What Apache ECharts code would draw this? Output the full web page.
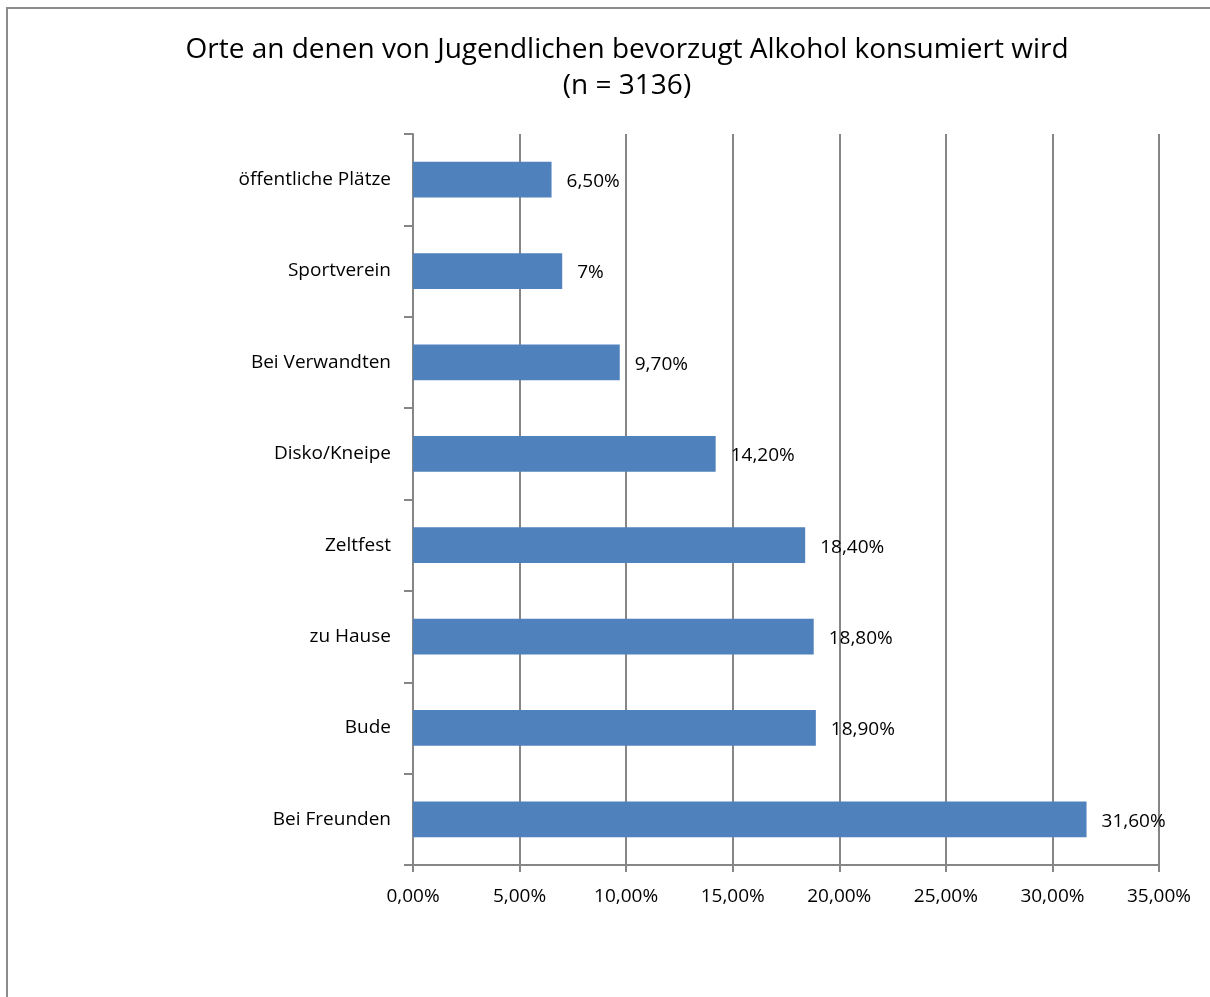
<!DOCTYPE html>
<html><head><meta charset="utf-8">
<script src="https://cdn.jsdelivr.net/npm/echarts@6/dist/echarts.min.js"></script>
<style>html,body{margin:0;padding:0;background:#fff}#c{width:1210px;height:997px}</style>
</head><body><div id="c"></div>
<script>
const categories = ["Bei Freunden","Bude","zu Hause","Zeltfest","Disko/Kneipe","Bei Verwandten","Sportverein","öffentliche Plätze"];
const values = [31.6, 18.9, 18.8, 18.4, 14.2, 9.7, 7, 6.5];
const valueLabels = ["31,60%","18,90%","18,80%","18,40%","14,20%","9,70%","7%","6,50%"];
const titleText = "Orte an denen von Jugendlichen bevorzugt Alkohol konsumiert wird\n(n = 3136)";

const FONT = "Open Sans";
const chart = echarts.init(document.getElementById('c'));
chart.setOption({
  animation: false,
  backgroundColor: '#fff',
  textStyle: {fontFamily: FONT},
  title: {
    text: titleText, left: 622, textAlign: 'center', top: 27,
    textStyle: {fontFamily: FONT, fontSize: 28, fontWeight: 'normal', color: '#000', lineHeight: 36}
  },
  graphic: [{type: 'rect', shape: {x: 7, y: 8, width: 1300, height: 1100}, style: {fill: 'none', stroke: '#8c8c8c', lineWidth: 2}, silent: true}],
  grid: {left: 413, right: 51, top: 134, bottom: 132, containLabel: false},
  xAxis: {
    type: 'value', min: 0, max: 35, interval: 5,
    axisLine: {show: true, lineStyle: {color: '#868686', width: 2}},
    axisTick: {show: true, length: 7, lineStyle: {color: '#868686', width: 2}},
    splitLine: {show: true, lineStyle: {color: '#868686', width: 2}},
    axisLabel: {margin: 22, fontSize: 19, color: '#000', fontFamily: FONT,
      formatter: v => v.toFixed(2).replace('.', ',') + '%'}
  },
  yAxis: {
    type: 'category', data: categories,
    axisLine: {show: true, lineStyle: {color: '#868686', width: 2}},
    axisTick: {show: true, length: 9, lineStyle: {color: '#868686', width: 2}},
    axisLabel: {margin: 22, fontSize: 19, color: '#000', fontFamily: FONT, padding: [4, 0, 0, 0]}
  },
  series: [{
    type: 'bar', data: values, barCategoryGap: '61%',
    itemStyle: {color: '#4f81bd'},
    label: {show: true, position: 'right', distance: 15, offset: [0, 2], fontSize: 19, color: '#000', fontFamily: FONT,
      formatter: p => valueLabels[p.dataIndex]}
  }]
});
</script></body></html>
